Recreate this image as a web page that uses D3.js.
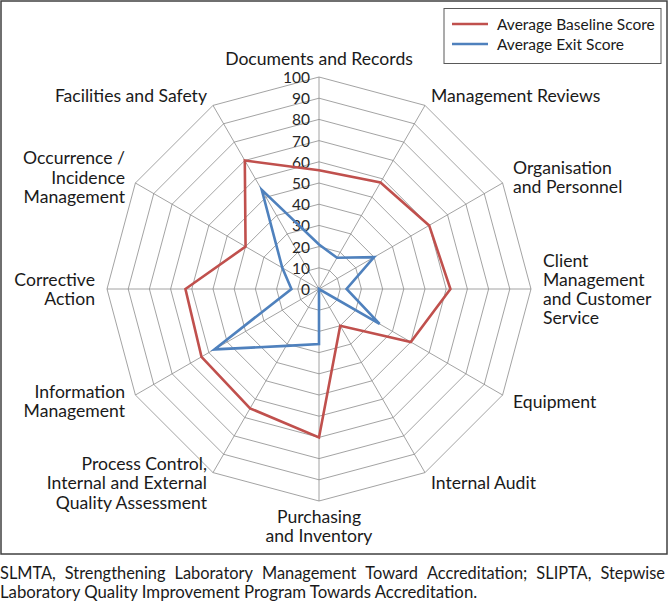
<!DOCTYPE html>
<html>
<head>
<meta charset="utf-8">
<script src="https://cdn.jsdelivr.net/npm/d3@7"></script>
<style>
  html, body { margin: 0; padding: 0; background: #fff; }
  svg { display: block; font-family: "Lato", "Open Sans", sans-serif; }
</style>
</head>
<body>
<svg id="chart" width="669" height="603"></svg>
<script>
// ---------- data ----------
const categories = [
  "Documents and Records",
  "Management Reviews",
  "Organisation and Personnel",
  "Client Management and Customer Service",
  "Equipment",
  "Internal Audit",
  "Purchasing and Inventory",
  "Process Control, Internal and External Quality Assessment",
  "Information Management",
  "Corrective Action",
  "Occurrence / Incidence Management",
  "Facilities and Safety"
];
const categoryLines = [
  ["Documents and Records"],
  ["Management Reviews"],
  ["Organisation", "and Personnel"],
  ["Client", "Management", "and Customer", "Service"],
  ["Equipment"],
  ["Internal Audit"],
  ["Purchasing", "and Inventory"],
  ["Process Control,", "Internal and External", "Quality Assessment"],
  ["Information", "Management"],
  ["Corrective", "Action"],
  ["Occurrence /", "Incidence", "Management"],
  ["Facilities and Safety"]
];
const baselineScores = [56, 58, 60, 62, 50, 20, 70, 65, 64, 63, 40, 70];
const exitScores     = [21, 17, 30, 13, 33, 0, 26, 31, 57, 13, 20, 54];
const tickValues = [0, 10, 20, 30, 40, 50, 60, 70, 80, 90, 100];
const seriesNames = ["Average Baseline Score", "Average Exit Score"];
const seriesColors = ["#C0504D", "#4F81BD"];
const captionLine1 = "SLMTA, Strengthening Laboratory Management Toward Accreditation; SLIPTA, Stepwise";
const captionLine2 = "Laboratory Quality Improvement Program Towards Accreditation.";

// ---------- layout ----------
const cx = 319, cy = 289, R = 212;
const svg = d3.select("#chart");

const r = d3.scaleLinear().domain([0, 100]).range([0, R]);
const angle = d3.scaleLinear().domain([0, categories.length]).range([0, 2 * Math.PI]);
const pt = (i, v) => {
  const a = angle(i);
  return [cx + r(v) * Math.sin(a), cy - r(v) * Math.cos(a)];
};

// outer frame
svg.append("rect").attr("x", 1).attr("y", 1).attr("width", 666).attr("height", 553)
  .attr("fill", "#fff").attr("stroke", "#404040").attr("stroke-width", 1.5);

const g = svg.append("g");

// grid rings
const idx = d3.range(categories.length);
tickValues.filter(t => t > 0).forEach(t => {
  g.append("path")
    .attr("d", d3.line()(idx.map(i => pt(i, t))) + "Z")
    .attr("fill", "none").attr("stroke", "#8c8c8c").attr("stroke-width", 0.8);
});
// spokes
idx.forEach(i => {
  const [x, y] = pt(i, 100);
  g.append("line").attr("x1", cx).attr("y1", cy).attr("x2", x).attr("y2", y)
    .attr("stroke", "#8c8c8c").attr("stroke-width", 0.8);
});

// tick labels
tickValues.forEach(t => {
  g.append("text").attr("x", cx - 9).attr("y", cy - r(t))
    .attr("text-anchor", "end").attr("dominant-baseline", "central")
    .attr("font-size", 15.5).attr("fill", "#262626").text(t);
});

// series
[baselineScores, exitScores].forEach((vals, s) => {
  g.append("path")
    .attr("d", d3.line()(vals.map((v, i) => pt(i, v))) + "Z")
    .attr("fill", "none").attr("stroke", seriesColors[s])
    .attr("stroke-width", 2.6).attr("stroke-linejoin", "miter");
});

// category labels
const lh = 19.2, pad = 12, fs = 17.6;
categoryLines.forEach((lines, i) => {
  const a = angle(i);
  const sx = Math.sin(a), cyy = -Math.cos(a);
  const x = cx + (R + pad) * sx;
  const y = cy + (R + pad) * cyy;
  let anchor = "middle";
  if (sx > 0.1) anchor = "start";
  else if (sx < -0.1) anchor = "end";
  let y0;
  const n = lines.length;
  if (Math.abs(sx) < 0.1 && cyy < 0) y0 = y - 7 - (n - 1) * lh;       // top
  else if (Math.abs(sx) < 0.1 && cyy > 0) y0 = y - 6 + lh / 2;        // bottom
  else y0 = y - (n - 1) * lh / 2;
  const t = g.append("text").attr("text-anchor", anchor)
    .attr("font-size", fs).attr("fill", "#1a1a1a");
  lines.forEach((ln, k) => {
    t.append("tspan").attr("x", x).attr("y", y0 + k * lh)
      .attr("dominant-baseline", "central").text(ln);
  });
});

// legend
const lg = svg.append("g");
lg.append("rect").attr("x", 444).attr("y", 8.5).attr("width", 217).attr("height", 55)
  .attr("fill", "#fff").attr("stroke", "#595959").attr("stroke-width", 1);
seriesNames.forEach((nm, s) => {
  const yy = 24 + s * 20;
  lg.append("line").attr("x1", 452).attr("x2", 488).attr("y1", yy).attr("y2", yy)
    .attr("stroke", seriesColors[s]).attr("stroke-width", 2.6);
  lg.append("text").attr("x", 497).attr("y", yy).attr("dominant-baseline", "central")
    .attr("font-size", 15.5).attr("fill", "#1a1a1a").text(nm);
});

// caption (line 1 justified)
const capFs = 16.8;
const lineW = 665;
const words = captionLine1.split(" ");
const capG = svg.append("g").attr("font-size", capFs).attr("fill", "#1a1a1a");
const ws = words.map(w => capG.append("text").attr("y", 572).attr("dominant-baseline", "central").text(w));
const widths = ws.map(t => t.node().getComputedTextLength());
const total = d3.sum(widths);
const minGap = 9;
const squeeze = Math.min(1, (lineW - minGap * (words.length - 1)) / total);
const sw = widths.map(w => w * squeeze);
if (squeeze < 1) ws.forEach((t, k) => t.attr("textLength", sw[k]).attr("lengthAdjust", "spacingAndGlyphs"));
const gap = (lineW - d3.sum(sw)) / (words.length - 1);
let xx = 0;
ws.forEach((t, k) => { t.attr("x", xx); xx += sw[k] + gap; });
capG.append("text").attr("x", 0).attr("y", 591).attr("dominant-baseline", "central").text(captionLine2);
</script>
</body>
</html>
